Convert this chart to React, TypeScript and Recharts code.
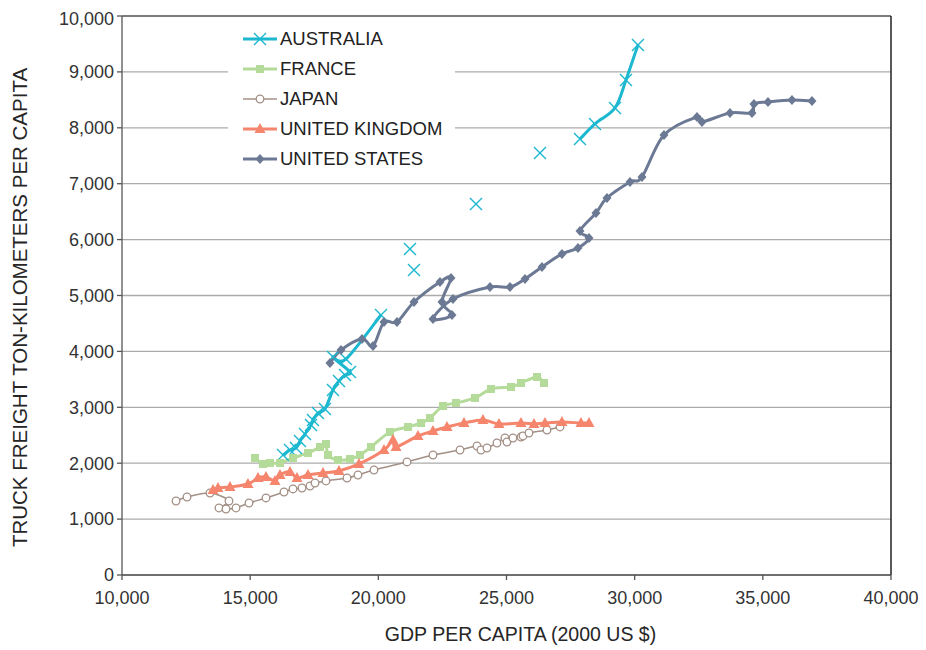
import React from "react";
import {
  ComposedChart,
  Line,
  XAxis,
  YAxis,
  CartesianGrid,
  Legend,
  ReferenceLine,
} from "recharts";

const FONT = "'Liberation Sans', Arial, sans-serif";

const X_TICKS = [10000, 15000, 20000, 25000, 30000, 35000, 40000];
const Y_TICKS = [0, 1000, 2000, 3000, 4000, 5000, 6000, 7000, 8000, 9000, 10000];

// GDP per capita (2000 US $) and truck ton-km per capita, one pair of arrays per country.
// null = a break in the line (Australia has gaps in the series)
const australiaGdp = [
  16281, 16554, 16788, 16944, 17139, 17373, 17451, 17646, 17919, 18231, 18465, 18699, 18894, 18231, 18738, 20104,
  null, 21235, null, 21391, null, 23810, null, 26306, null,
  27867, 28452, 29232, 29661, 30129,
];
const australiaFreight = [
  2147, 2236, 2272, 2397, 2522, 2683, 2773, 2898, 2970, 3310, 3471, 3578, 3632, 3900, 3864, 4651,
  null, 5832, null, 5456, null, 6637, null, 7550, null,
  7800, 8069, 8355, 8856, 9482,
];

const franceGdp = [
  15188, 15500, 15773, 16164, 16671, 17256, 17724, 17958, 18036, 18426, 18894, 19284, 19713,
  20455, 21157, 21664, 22015, 22522, 23029, 23770, 24394, 25175, 25565, 26189, 26462,
];
const franceFreight = [
  2093, 1986, 2003, 2003, 2093, 2183, 2290, 2344, 2147, 2057, 2075, 2147, 2290,
  2558, 2648, 2719, 2809, 3023, 3077, 3167, 3328, 3363, 3435, 3542, 3435,
];

const japanGdp = [
  12107, 12536, 13433, 14174, 13784, 14057, 14447, 14954, 15617, 16320, 16671, 17022, 17334, 17529,
  17958, 18777, 19206, 19830, 21118, 22132, 23186, 23849, 24005, 24238, 24628, 24940, 25019, 25253,
  25565, 25643, 25877, 26579, 27086,
];
const japanFreight = [
  1324, 1395, 1467, 1324, 1199, 1181, 1199, 1288, 1378, 1485, 1539, 1556, 1592, 1646,
  1682, 1735, 1789, 1878, 2022, 2147, 2236, 2308, 2236, 2272, 2361, 2451, 2379, 2451,
  2469, 2487, 2540, 2594, 2648,
];

const ukGdp = [
  13550, 13745, 14213, 14915, 15305, 15617, 15968, 16164, 16554, 16827, 17256, 17841, 18465, 19245,
  20221, 20572, 20689, 21547, 22132, 22678, 23342, 24082, 24706, 25565, 26072, 26501, 27164, 27906, 28218,
];
const ukFreight = [
  1521, 1556, 1574, 1628, 1735, 1753, 1682, 1789, 1843, 1735, 1789, 1825, 1861, 1986,
  2236, 2415, 2290, 2487, 2576, 2648, 2719, 2773, 2701, 2719, 2701, 2719, 2737, 2719, 2719,
];

const usGdp = [
  18114, 18543, 19362, 19792, 20221, 20728, 21391, 22405, 22834, 22483, 22873, 22132, 22912,
  24356, 25136, 25721, 26384, 27164, 27789, 28218, 27867, 28491, 28920, 29817, 30285, 31143,
  32431, 32626, 33718, 34576, 34654, 35201, 36137, 36917,
];
const usFreight = [
  3793, 4025, 4222, 4097, 4526, 4526, 4884, 5242, 5313, 4884, 4651, 4580, 4938,
  5152, 5152, 5295, 5510, 5743, 5850, 6029, 6154, 6476, 6745, 7031, 7120, 7872,
  8194, 8104, 8265, 8265, 8426, 8462, 8498, 8480,
];

const toPoints = (gdp: (number | null)[], freight: (number | null)[]) =>
  gdp.map((x, i) => ({ x, y: freight[i] }));

type Shape = "cross" | "square" | "circle" | "triangle" | "diamond";

const SERIES: { name: string; color: string; shape: Shape; width: number; data: any[] }[] = [
  { name: "AUSTRALIA", color: "#1CB8CF", shape: "cross", width: 3, data: toPoints(australiaGdp, australiaFreight) },
  { name: "FRANCE", color: "#B4DB99", shape: "square", width: 3, data: toPoints(franceGdp, franceFreight) },
  { name: "JAPAN", color: "#A39086", shape: "circle", width: 1.5, data: toPoints(japanGdp, japanFreight) },
  { name: "UNITED KINGDOM", color: "#F5856C", shape: "triangle", width: 3, data: toPoints(ukGdp, ukFreight) },
  { name: "UNITED STATES", color: "#6C7994", shape: "diamond", width: 3, data: toPoints(usGdp, usFreight) },
];

// Excel-like smoothed line (Catmull-Rom through the points), as a d3 curve factory
const smoothCurve = (context: any) => {
  let pts: number[][] = [];
  return {
    areaStart() {},
    areaEnd() {},
    lineStart() {
      pts = [];
    },
    point(x: number, y: number) {
      pts.push([+x, +y]);
    },
    lineEnd() {
      if (!pts.length) return;
      context.moveTo(pts[0][0], pts[0][1]);
      for (let i = 0; i < pts.length - 1; i++) {
        const p0 = pts[i - 1] || pts[i];
        const p1 = pts[i];
        const p2 = pts[i + 1];
        const p3 = pts[i + 2] || p2;
        context.bezierCurveTo(
          p1[0] + (p2[0] - p0[0]) / 6,
          p1[1] + (p2[1] - p0[1]) / 6,
          p2[0] - (p3[0] - p1[0]) / 6,
          p2[1] - (p3[1] - p1[1]) / 6,
          p2[0],
          p2[1]
        );
      }
    },
  };
};

function Marker({ shape, color, x, y }: { shape: Shape; color: string; x: number; y: number }) {
  switch (shape) {
    case "cross":
      return (
        <path
          d={`M${x - 6},${y - 6}L${x + 6},${y + 6}M${x - 6},${y + 6}L${x + 6},${y - 6}`}
          stroke={color}
          strokeWidth={1.4}
          fill="none"
        />
      );
    case "square":
      return <rect x={x - 4} y={y - 4} width={8} height={8} fill={color} />;
    case "circle":
      return <circle cx={x} cy={y} r={3.8} fill="#fff" stroke={color} strokeWidth={1.3} />;
    case "triangle":
      return <path d={`M${x},${y - 6}L${x + 5.5},${y + 4}L${x - 5.5},${y + 4}Z`} fill={color} />;
    default:
      return <path d={`M${x},${y - 5}L${x + 4.5},${y}L${x},${y + 5}L${x - 4.5},${y}Z`} fill={color} />;
  }
}

const dotFor = (shape: Shape, color: string) => (props: any) => {
  const { cx, cy, index } = props;
  if (!Number.isFinite(cx) || !Number.isFinite(cy)) return <g key={`d-${index}`} />;
  return (
    <g key={`d-${index}`}>
      <Marker shape={shape} color={color} x={cx} y={cy} />
    </g>
  );
};

const renderLegend = () => (
  <div
    style={{
      background: "#fff",
      width: 227,
      paddingTop: 2,
      paddingBottom: 6,
      fontFamily: FONT,
      fontSize: 18.5,
      color: "#222",
    }}
  >
    {SERIES.map((s) => (
      <div key={s.name} style={{ display: "flex", alignItems: "center", height: 30 }}>
        <svg width={52} height={30} style={{ flex: "none" }}>
          <line x1={15} x2={49} y1={15} y2={15} stroke={s.color} strokeWidth={s.width} />
          <Marker shape={s.shape} color={s.color} x={32} y={15} />
        </svg>
        <span style={{ whiteSpace: "nowrap" }}>{s.name}</span>
      </div>
    ))}
  </div>
);

export default function App() {
  const tick = { fontSize: 18, fill: "#333", fontFamily: FONT };
  return (
    <ComposedChart width={910} height={640} margin={{ top: 8, right: 27, left: 0, bottom: 0 }}>
      <CartesianGrid vertical={false} stroke="#ababab" strokeWidth={1.3} />
      <XAxis
        type="number"
        dataKey="x"
        domain={[10000, 40000]}
        ticks={X_TICKS}
        allowDataOverflow
        tickFormatter={(v: number) => v.toLocaleString("en-US")}
        tick={tick}
        tickSize={5}
        tickMargin={11}
        height={73}
        stroke="#555"
        strokeWidth={1.3}
        label={{
          value: "GDP PER CAPITA (2000 US $)",
          position: "insideBottom",
          offset: 7,
          dx: 14,
          style: { fontSize: 19.5, fill: "#262626", fontFamily: FONT },
        }}
      />
      <YAxis
        type="number"
        domain={[0, 10000]}
        ticks={Y_TICKS}
        tickFormatter={(v: number) => v.toLocaleString("en-US")}
        tick={tick}
        tickSize={5}
        tickMargin={3}
        width={114}
        stroke="#555"
        strokeWidth={1.3}
        label={{
          value: "TRUCK FREIGHT TON-KILOMETERS PER CAPITA",
          angle: -90,
          position: "insideLeft",
          offset: 12,
          dy: 12,
          style: { fontSize: 20.5, fill: "#262626", fontFamily: FONT, textAnchor: "middle" },
        }}
      />
      <ReferenceLine y={10000} stroke="#666" strokeWidth={1.5} />
      <ReferenceLine x={40000} stroke="#222" strokeWidth={1.5} />
      <Legend
        content={renderLegend}
        layout="vertical"
        align="center"
        verticalAlign="middle"
        wrapperStyle={{ left: 220, top: 14, width: 227 }}
      />
      {SERIES.map((s) => (
        <Line
          key={s.name}
          name={s.name}
          data={s.data}
          dataKey="y"
          type={smoothCurve as any}
          stroke={s.color}
          strokeWidth={s.width}
          dot={dotFor(s.shape, s.color)}
          activeDot={false}
          connectNulls={false}
          isAnimationActive={false}
        />
      ))}
    </ComposedChart>
  );
}
